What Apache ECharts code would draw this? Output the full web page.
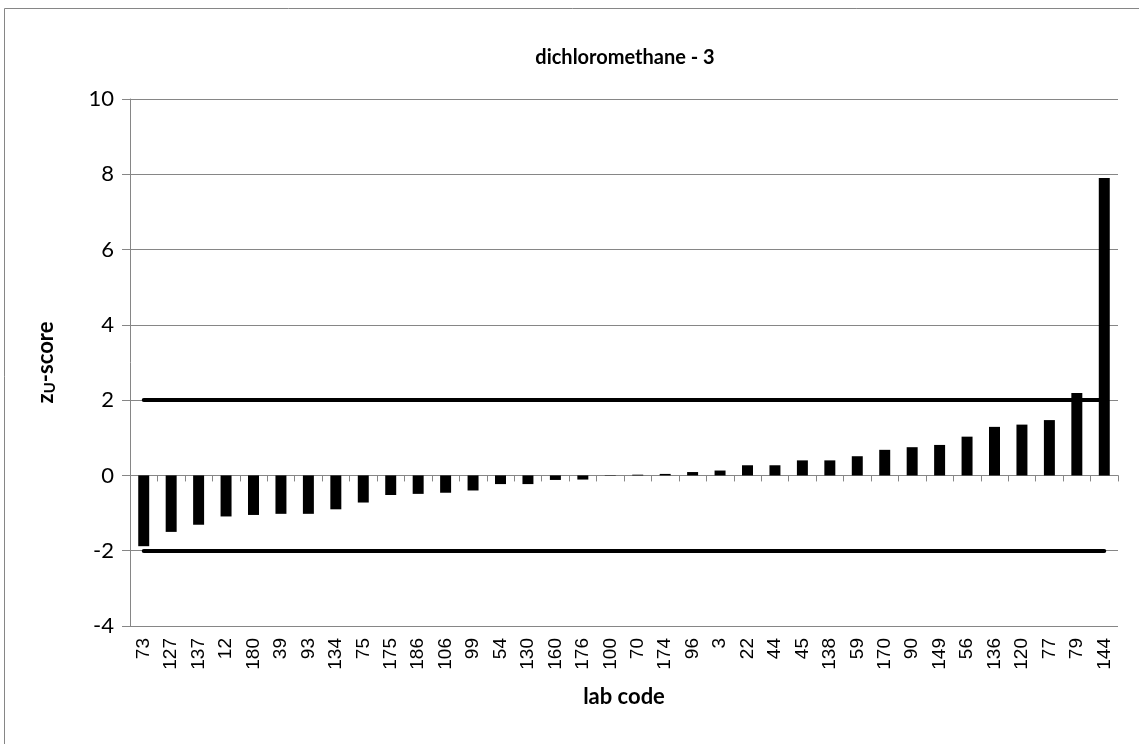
<!DOCTYPE html>
<html>
<head>
<meta charset="utf-8">
<script src="https://cdn.jsdelivr.net/npm/echarts@6/dist/echarts.min.js"></script>
<style>
  html, body { margin: 0; padding: 0; background: #fff; }
  #chart { width: 1139px; height: 744px; }
</style>
</head>
<body>
<div id="chart"></div>
<script>
// lab codes, sorted by score
var labCodes = ['73','127','137','12','180','39','93','134','75','175','186','106','99','54','130','160','176','100',
                '70','174','96','3','22','44','45','138','59','170','90','149','56','136','120','77','79','144'];
// z_U scores
var zScores = [-1.88,-1.50,-1.31,-1.09,-1.05,-1.02,-1.02,-0.90,-0.72,-0.52,-0.49,-0.46,-0.40,-0.23,-0.23,-0.12,-0.11,-0.01,
               0.02,0.04,0.09,0.13,0.27,0.27,0.40,0.40,0.51,0.68,0.75,0.81,1.03,1.29,1.35,1.47,2.19,7.90];
// limits
var upperLimit = 2;
var lowerLimit = -2;

var gray = '#868686';
var myChart = echarts.init(document.getElementById('chart'));

var first = labCodes[0];
var last = labCodes[labCodes.length - 1];

var option = {
    animation: false,
    graphic: [{
        type: 'rect',
        shape: { x: 4.5, y: 8.5, width: 1150, height: 760 },
        style: { fill: 'none', stroke: gray, lineWidth: 1 },
        silent: true
    }],
    title: {
        text: 'dichloromethane - 3',
        left: 620,
        top: 43,
        textAlign: 'center',
        textStyle: { fontFamily: 'Lato', fontWeight: 'bold', fontSize: 20, color: '#000' }
    },
    grid: {
        left: 130,
        right: 21,
        top: 99,
        bottom: 118
    },
    xAxis: [{
        // axis line through zero with ticks
        type: 'category',
        data: labCodes,
        position: 'top',
        axisLine: { onZero: true, lineStyle: { color: gray, width: 1 } },
        axisTick: { show: true, inside: true, length: 6, lineStyle: { color: gray } },
        axisLabel: { show: false },
        splitLine: { show: false }
    }, {
        // labels at the bottom
        type: 'category',
        data: labCodes,
        position: 'bottom',
        axisLine: { show: false, onZero: false },
        axisTick: { show: false },
        axisLabel: {
            rotate: 90,
            interval: 0,
            margin: 12,
            fontFamily: 'Liberation Sans',
            fontSize: 19,
            color: '#000'
        },
        name: 'lab code',
        nameLocation: 'middle',
        nameGap: 60,
        nameTextStyle: { fontFamily: 'Lato', fontWeight: 'bold', fontSize: 22, color: '#000' }
    }],
    yAxis: {
        type: 'value',
        min: -4,
        max: 10,
        interval: 2,
        axisLine: { show: true, lineStyle: { color: gray } },
        axisTick: { show: true, length: 8, lineStyle: { color: gray } },
        axisLabel: { margin: 16, fontFamily: 'Lato', fontSize: 22, color: '#000' },
        splitLine: { lineStyle: { color: gray, width: 1 } },
        name: '{z|z}{sub|U}{z|-score}',
        nameLocation: 'middle',
        nameGap: 72,
        nameRotate: 90,
        nameTextStyle: {
            rich: {
                z: { fontFamily: 'Lato', fontWeight: 'bold', fontSize: 22, color: '#000' },
                sub: { fontFamily: 'Lato', fontWeight: 'bold', fontSize: 15, color: '#000', padding: [10, 0, 0, 0] }
            }
        }
    },
    series: [{
        name: 'z-score',
        type: 'bar',
        xAxisIndex: 0,
        barWidth: '40%',
        itemStyle: { color: '#000' },
        data: zScores,
        markLine: {
            silent: true,
            symbol: ['none', 'none'],
            label: { show: false },
            lineStyle: { color: '#000', width: 4, type: 'solid', cap: 'round' },
            data: [
                [{ coord: [first, upperLimit] }, { coord: [last, upperLimit] }],
                [{ coord: [first, lowerLimit] }, { coord: [last, lowerLimit] }]
            ]
        }
    }]
};
myChart.setOption(option);
</script>
</body>
</html>
